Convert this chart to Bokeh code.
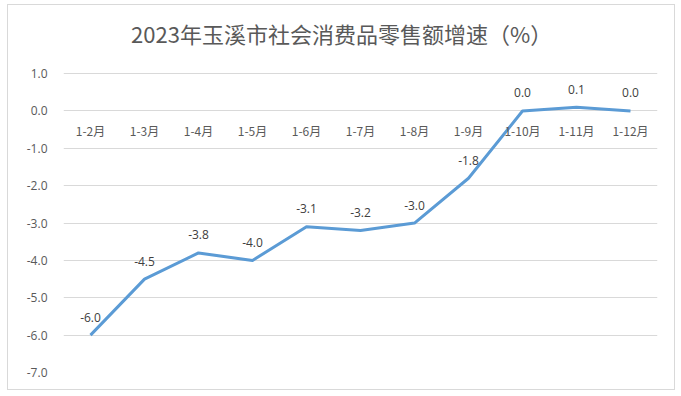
from bokeh.plotting import figure
from bokeh.models import ColumnDataSource, FactorRange, Range1d, FixedTicker, NumeralTickFormatter, Label
from bokeh.core.properties import value
from bokeh.embed import file_html
from bokeh.resources import INLINE

months = ["1-2月", "1-3月", "1-4月", "1-5月", "1-6月", "1-7月", "1-8月", "1-9月", "1-10月", "1-11月", "1-12月"]
growth = [-6.0, -4.5, -3.8, -4.0, -3.1, -3.2, -3.0, -1.8, 0.0, 0.1, 0.0]
y_ticks = [-7, -6, -5, -4, -3, -2, -1, 0, 1]
title_text = "2023年玉溪市社会消费品零售额增速（%）"

src = ColumnDataSource(dict(
    x=months, y=growth,
    lab=["%.1f" % v for v in growth],
    zero=[0] * len(months),
))

# the upper part of the frame (above 1.0) holds the title
p = figure(width=668, height=386, x_range=FactorRange(*months), y_range=Range1d(-7, 2.69),
           output_backend="svg", toolbar_location=None,
           min_border_left=55, min_border_right=19, min_border_top=5, min_border_bottom=19,
           background_fill_color="white", border_fill_color="white",
           styles={"border": "1px solid #D9D9D9", "margin-left": "7px", "margin-top": "4px"})
p.outline_line_color = None

p.xaxis.visible = False
p.xgrid.grid_line_color = None
p.ygrid.grid_line_color = "#D9D9D9"
p.ygrid.grid_line_width = 1

ya = p.yaxis[0]
ya.ticker = FixedTicker(ticks=y_ticks)
ya.formatter = NumeralTickFormatter(format="0.0")
ya.axis_line_color = None
ya.major_tick_line_color = None
ya.minor_tick_line_color = None
ya.major_label_standoff = 10
ya.major_label_text_font = "Open Sans"
ya.major_label_text_font_size = "12px"
ya.major_label_text_color = "#595959"

p.line("x", "y", source=src, line_color="#5B9BD5", line_width=3, line_join="round")

p.text("x", "zero", text="x", source=src, text_align="center", text_baseline="middle",
       y_offset=20, text_font=value("Noto Sans CJK SC"), text_font_size="12px", text_color="#595959")

p.text("x", "y", text="lab", source=src, text_align="center", text_baseline="middle",
       y_offset=-18, text_font=value("Open Sans"), text_font_size="12px", text_color="#404040")

p.add_layout(Label(x=5.15, y=2.09, text=title_text, text_align="center", text_baseline="middle",
                   text_font="Noto Sans CJK SC", text_font_size="22px", text_color="#595959"))

open("out.html", "w").write(file_html(p, INLINE))
